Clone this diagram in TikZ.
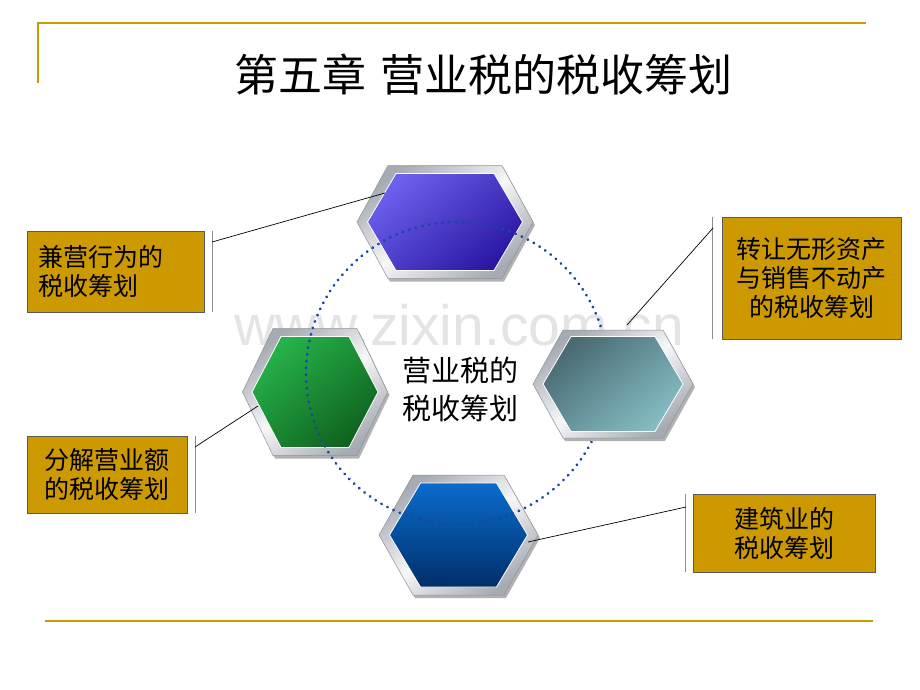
\documentclass[tikz,border=0pt]{standalone}
\usepackage{fontspec}
\usepackage{tikz}
\usetikzlibrary{positioning,calc}
\newfontfamily\cjk{Noto Sans CJK SC}
\newfontfamily\wmfont{Liberation Sans}
\definecolor{gold}{HTML}{CC9900}
\definecolor{boxedge}{HTML}{5A5A5A}
\definecolor{bracketgray}{HTML}{8C8C8C}
\definecolor{ringblue}{HTML}{1846A4}
\definecolor{silverlo}{HTML}{A6AAB2}
\definecolor{silverhi}{HTML}{F7F7F9}
\definecolor{silveredge}{HTML}{8E9298}
\definecolor{purplehi}{HTML}{6C60EC}
\definecolor{purplelo}{HTML}{2A18A4}
\definecolor{greenhi}{HTML}{26B24A}
\definecolor{greenlo}{HTML}{10631E}
\definecolor{tealhi}{HTML}{4A6A72}
\definecolor{teallo}{HTML}{84BCC4}
\definecolor{bluehi}{HTML}{0A6CCE}
\definecolor{bluelo}{HTML}{002F68}
\definecolor{watermark}{HTML}{E4E4E4}
% hexagon outline, centred on the origin: half width, half top edge, half height
\newcommand\hexpath[3]{(-#1,0) -- (-#2,-#3) -- (#2,-#3) -- (#1,0) -- (#2,#3) -- (-#2,#3) -- cycle}

\begin{document}
\begin{tikzpicture}[
  x=1pt,y=-1pt,
  planbox/.style={draw=boxedge,line width=0.8pt,fill=gold,font=\cjk\fontsize{25}{29}\selectfont,
                  align=center,inner sep=0pt},
  bracket/.style={draw=bracketgray,line width=1.6pt},
  link/.style={draw=black,line width=0.7pt},
  rule/.style={draw=gold,line width=2pt},
  hexshadow/.style={fill=black!30},
  hexframe/.style={draw=silveredge,line width=0.5pt,top color=silverlo,bottom color=silverlo,
                   middle color=silverhi,shading angle=35},
  hexface/.style={draw=white,line width=0.8pt},
  ringdots/.style={draw=ringblue,line width=2.8pt,dash pattern=on 0.4pt off 6.4pt,line cap=round}
]
\useasboundingbox (0,0) rectangle (920,690);
% frame rules
\draw[rule] (38,23) -- (866,23);
\draw[rule] (38,22) -- (38,83);
\draw[rule] (45,621) -- (873,621);
% watermark
\node[font=\wmfont\fontsize{57}{57}\selectfont,text=watermark,anchor=base] (wm) at (459,345) {www.zixin.com.cn};
% title
\node[font=\cjk\fontsize{44}{44}\selectfont] (title) at (483.5,75) {第五章\hspace{14pt}营业税的税收筹划};
% hexagon centres
\coordinate (hxtop) at (445,222);
\coordinate (hxright) at (613,384);
\coordinate (hxleft) at (315,392);
\coordinate (hxbottom) at (458.5,535);
% top hexagon
\begin{scope}[shift={(hxtop)}]
  \fill[hexshadow] [shift={(2,3)}] \hexpath{88}{57}{56.5};
  \shade[hexframe] \hexpath{88}{57}{56.5};
  \shade[hexface,top color=purplehi,bottom color=purplelo,shading angle=40] \hexpath{77.5}{49}{48.5};
\end{scope}
% left hexagon
\begin{scope}[shift={(hxleft)}]
  \fill[hexshadow] [shift={(2,3)}] \hexpath{72.5}{42}{63.5};
  \shade[hexframe] \hexpath{72.5}{42}{63.5};
  \shade[hexface,top color=greenhi,bottom color=greenlo,shading angle=40] \hexpath{63}{34}{55.5};
\end{scope}
% bottom hexagon
\begin{scope}[shift={(hxbottom)}]
  \fill[hexshadow] [shift={(2,3)}] \hexpath{79.5}{45.5}{60};
  \shade[hexframe] \hexpath{79.5}{45.5}{60};
  \shade[hexface,top color=bluehi,bottom color=bluelo] \hexpath{69}{38}{52};
\end{scope}
% dotted ring
\draw[ringdots] (457,373) circle[radius=151pt];
% right hexagon (covers the ring)
\begin{scope}[shift={(hxright)}]
  \fill[hexshadow] [shift={(2,3)}] \hexpath{80}{50}{54};
  \shade[hexframe] \hexpath{80}{50}{54};
  \shade[hexface,top color=tealhi,bottom color=teallo,shading angle=40] \hexpath{70}{42}{47.5};
\end{scope}
% centre text
\node[font=\cjk\fontsize{29}{38}\selectfont,align=center] (core) at (460,389) {营业税的\\税收筹划};
% side boxes
\node[planbox,minimum width=177pt,minimum height=81pt,text width=155pt,align=left] (mixed) at (115.5,271.5) {兼营行为的\\税收筹划};
\node[planbox,minimum width=179pt,minimum height=122pt] (transfer) at (811.5,278) {转让无形资产\\与销售不动产\\的税收筹划};
\node[planbox,minimum width=160pt,minimum height=77pt] (split) at (107,474.5) {分解营业额\\的税收筹划};
\node[planbox,minimum width=182pt,minimum height=78pt] (build) at (784,533) {建筑业的\\税收筹划};
% brackets
\draw[bracket] ([xshift=8pt]mixed.north east) -- ([xshift=8pt]mixed.south east);
\draw[bracket] ([xshift=-9pt]transfer.north west) -- ([xshift=-9pt]transfer.south west);
\draw[bracket] ([xshift=8pt]split.north east) -- ([xshift=8pt]split.south east);
\draw[bracket] ([xshift=-7pt]build.north west) -- ([xshift=-7pt]build.south west);
% leader lines
\coordinate (mixedfoot) at (212,242);
\coordinate (mixedtip) at (385,193);
\coordinate (transferfoot) at (713,228);
\coordinate (transfertip) at (627,325);
\coordinate (splitfoot) at (195,447);
\coordinate (splittip) at (258,406);
\coordinate (buildfoot) at (686,507);
\coordinate (buildtip) at (528,542);
\draw[link] (mixedfoot) -- (mixedtip);
\draw[link] (transferfoot) -- (transfertip);
\draw[link] (splitfoot) -- (splittip);
\draw[link] (buildfoot) -- (buildtip);
\end{tikzpicture}
\end{document}
